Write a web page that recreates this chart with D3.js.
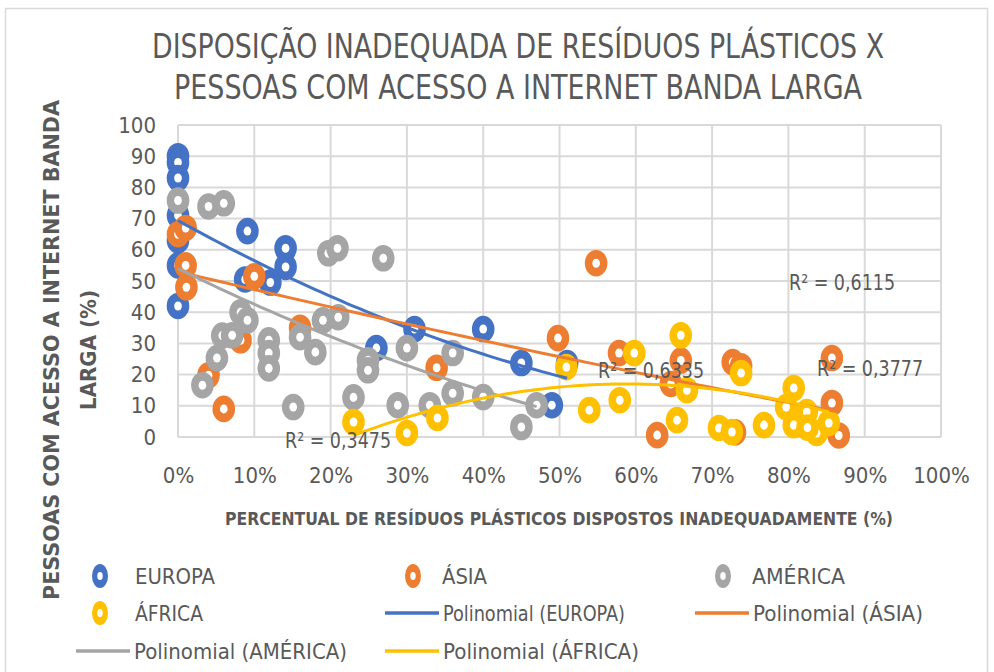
<!DOCTYPE html>
<html>
<head>
<meta charset="utf-8">
<script src="https://d3js.org/d3.v7.min.js"></script>
<style>
body {margin:0; background:#fff;}
text {font-family:'Liberation Sans Narrow','DejaVu Sans Condensed','Liberation Sans',sans-serif; fill:#595959;}
</style>
</head>
<body>
<script>
// x = % de residuos dispostos inadequadamente, y = % com internet banda larga
var europa = [[0,90],[0,88],[0,83],[0,71],[0,63],[0,55],[0,42],[9.1,66],[14.1,60.5],[14.1,54.5],
  [8.8,50.5],[12.1,49.5],[26,28.5],[31,34.6],[40,34.6],[45,23.7],[49,10.2],[51,23.7]];
var asia = [[0,65],[1,67],[1,55],[1.1,48],[10,51.5],[8.2,31],[4,19.8],[6,9],[16,35],[33.9,22.2],
  [54.8,55.7],[49.8,31.7],[57.8,26.9],[65.9,24.5],[64.6,17],[62.8,0.6],[72.7,24],[73.8,22.7],
  [73,1.5],[85.7,25.3],[85.7,10.9],[86.6,0.5]];
var america = [[0,75.8],[4,73.9],[6,74.9],[8.2,40],[9.1,37.4],[5.8,32.5],[7.1,32.6],[5.1,25.3],
  [3.2,16.6],[11.9,31],[11.9,26.9],[11.9,22],[15.1,9.6],[16,32],[18,27.2],[19,37.4],[21,38.4],
  [19.7,58.9],[20.9,60.5],[26.9,57.3],[23,12.7],[24.9,24.6],[24.9,21.4],[28.8,10.2],[30,28.5],
  [33,10.2],[36,26.9],[36,14],[40,12.8],[45,3.2],[47,10.2]];
var africa = [[23,4.8],[30,1.3],[34,6.1],[50.9,22.4],[53.9,8.6],[57.9,11.8],[59.8,26.9],[65.9,32.6],
  [66.7,15],[65.4,5.4],[70.9,2.9],[72.6,1.6],[73.8,20.5],[76.8,3.8],[80.7,15.7],[79.7,9.6],
  [80.7,3.8],[82.4,8],[83.7,1.3],[82.5,3],[85.3,4.5]];

// coeficientes das linhas de tendencia polinomiais (y = c0 + c1*x + c2*x^2)
var trendEuropa = [69.4, -1.361, 0.00725];
var trendAsia = [53, -0.581, 0.000713];
var trendAmerica = [54, -1.2, 0.0055];
var trendAfrica = [-27.47, 1.512, -0.01285];

var seriesNames = ["EUROPA","ÁSIA","AMÉRICA","ÁFRICA"];
var seriesColors = ["#4472C4","#ED7D31","#A5A5A5","#FFC000"];
var seriesData = [europa, asia, america, africa];
var trendCoefs = [trendEuropa, trendAsia, trendAmerica, trendAfrica];
var r2Labels = ["R² = 0,3475","R² = 0,6335","R² = 0,6115","R² = 0,3777"];
var xTicks = [0,10,20,30,40,50,60,70,80,90,100];
var yTicks = [0,10,20,30,40,50,60,70,80,90,100];

var width = 994, height = 672;
var svg = d3.select("body").append("svg").attr("width", width).attr("height", height);

// moldura do grafico
svg.append("rect").attr("x",5.5).attr("y",8.5).attr("width",982).attr("height",700)
  .attr("fill","none").attr("stroke","#d9d9d9").attr("stroke-width",1.5);

var x = d3.scaleLinear().domain([0,100]).range([178,941]);
var y = d3.scaleLinear().domain([0,100]).range([437,125]);

// grade
var grid = svg.append("g");
grid.selectAll("line.h").data(yTicks).enter().append("line")
  .attr("x1",x(0)).attr("x2",x(100)).attr("y1",d=>y(d)).attr("y2",d=>y(d))
  .attr("stroke","#d9d9d9").attr("stroke-width",2);
grid.selectAll("line.v").data(xTicks).enter().append("line")
  .attr("y1",y(0)).attr("y2",y(100)).attr("x1",d=>x(d)).attr("x2",d=>x(d))
  .attr("stroke","#d9d9d9").attr("stroke-width",2);

// eixos
var yAxis = svg.append("g").attr("transform","translate("+x(0)+",0)")
  .call(d3.axisLeft(y).tickValues(yTicks).tickSize(0).tickPadding(22));
var xAxis = svg.append("g").attr("transform","translate(0,"+y(0)+")")
  .call(d3.axisBottom(x).tickValues(xTicks).tickFormat(d=>d+"%").tickSize(0).tickPadding(30));
svg.selectAll(".domain").remove();
svg.selectAll(".tick text").attr("font-size",22).attr("fill","#595959")
  .style("font-family","'Liberation Sans Narrow','DejaVu Sans Condensed',sans-serif");

// marcadores
function donut(g, cx, cy, color, rx, ry) {
  g.append("ellipse").attr("cx",cx).attr("cy",cy).attr("rx",rx).attr("ry",ry).attr("fill",color);
  g.append("ellipse").attr("cx",cx).attr("cy",cy).attr("rx",rx*0.34).attr("ry",ry*0.34).attr("fill","#fff");
}
var marks = svg.append("g");
seriesData.forEach(function(pts, i) {
  pts.forEach(function(p) { donut(marks, x(p[0]), y(p[1]), seriesColors[i], 11.3, 13.3); });
});

// tendencias polinomiais, no intervalo de x de cada serie
var line = d3.line().x(d=>x(d[0])).y(d=>y(d[1]));
var trends = svg.append("g");
seriesData.forEach(function(pts, i) {
  var c = trendCoefs[i];
  var ext = d3.extent(pts, p=>p[0]);
  var curve = d3.range(0, 61).map(function(k) {
    var xv = ext[0] + (ext[1]-ext[0]) * k / 60;
    return [xv, c[0] + c[1]*xv + c[2]*xv*xv];
  });
  trends.append("path").attr("d", line(curve)).attr("fill","none")
    .attr("stroke", seriesColors[i]).attr("stroke-width",3);
});

// rotulos R²
var r2Pos = [[285,448],[598,378],[789,290],[817,376]];
svg.selectAll("text.r2").data(r2Labels).enter().append("text")
  .attr("x",(d,i)=>r2Pos[i][0]).attr("y",(d,i)=>r2Pos[i][1])
  .attr("font-size",22).attr("textLength",106).attr("lengthAdjust","spacingAndGlyphs").text(d=>d);

// titulo
svg.append("text").attr("x",518).attr("y",58).attr("text-anchor","middle").attr("font-size",33)
  .attr("textLength",732).attr("lengthAdjust","spacingAndGlyphs")
  .text("DISPOSIÇÃO INADEQUADA DE RESÍDUOS PLÁSTICOS X");
svg.append("text").attr("x",518).attr("y",99).attr("text-anchor","middle").attr("font-size",33)
  .attr("textLength",688).attr("lengthAdjust","spacingAndGlyphs")
  .text("PESSOAS COM ACESSO A INTERNET BANDA LARGA");

// titulos dos eixos
svg.append("text").attr("transform","translate(59,350) rotate(-90)").attr("text-anchor","middle")
  .attr("font-size",21).attr("font-weight","bold").attr("textLength",500).attr("lengthAdjust","spacingAndGlyphs")
  .style("font-family","'DejaVu Sans','Liberation Sans',sans-serif")
  .text("PESSOAS COM ACESSO A INTERNET BANDA");
svg.append("text").attr("transform","translate(96,350) rotate(-90)").attr("text-anchor","middle")
  .attr("font-size",21).attr("font-weight","bold").attr("textLength",120).attr("lengthAdjust","spacingAndGlyphs")
  .style("font-family","'DejaVu Sans','Liberation Sans',sans-serif")
  .text("LARGA (%)");
svg.append("text").attr("x",559).attr("y",525).attr("text-anchor","middle")
  .attr("font-size",17).attr("font-weight","bold").attr("textLength",668).attr("lengthAdjust","spacingAndGlyphs")
  .style("font-family","'DejaVu Sans','Liberation Sans',sans-serif")
  .text("PERCENTUAL DE RESÍDUOS PLÁSTICOS DISPOSTOS INADEQUADAMENTE (%)");

// legenda
var legend = svg.append("g");
var markerItems = [[100,576,135,80],[413,576,442,45],[723,576,752,93],[100,613,135,68]];
seriesNames.forEach(function(name, i) {
  var it = markerItems[i];
  donut(legend, it[0], it[1], seriesColors[i], 8, 12);
  legend.append("text").attr("x",it[2]).attr("y",it[1]+8).attr("font-size",22)
    .attr("textLength",it[3]).attr("lengthAdjust","spacingAndGlyphs").text(name);
});
var lineItems = [[385,613,182],[695,613,170],[76,651,213],[385,651,196]];
seriesNames.forEach(function(name, i) {
  var it = lineItems[i];
  legend.append("line").attr("x1",it[0]).attr("x2",it[0]+54).attr("y1",it[1]).attr("y2",it[1])
    .attr("stroke",seriesColors[i]).attr("stroke-width",3.5);
  legend.append("text").attr("x",it[0]+58).attr("y",it[1]+8).attr("font-size",22)
    .attr("textLength",it[2]).attr("lengthAdjust","spacingAndGlyphs").text("Polinomial (" + name + ")");
});
</script>
</body>
</html>
